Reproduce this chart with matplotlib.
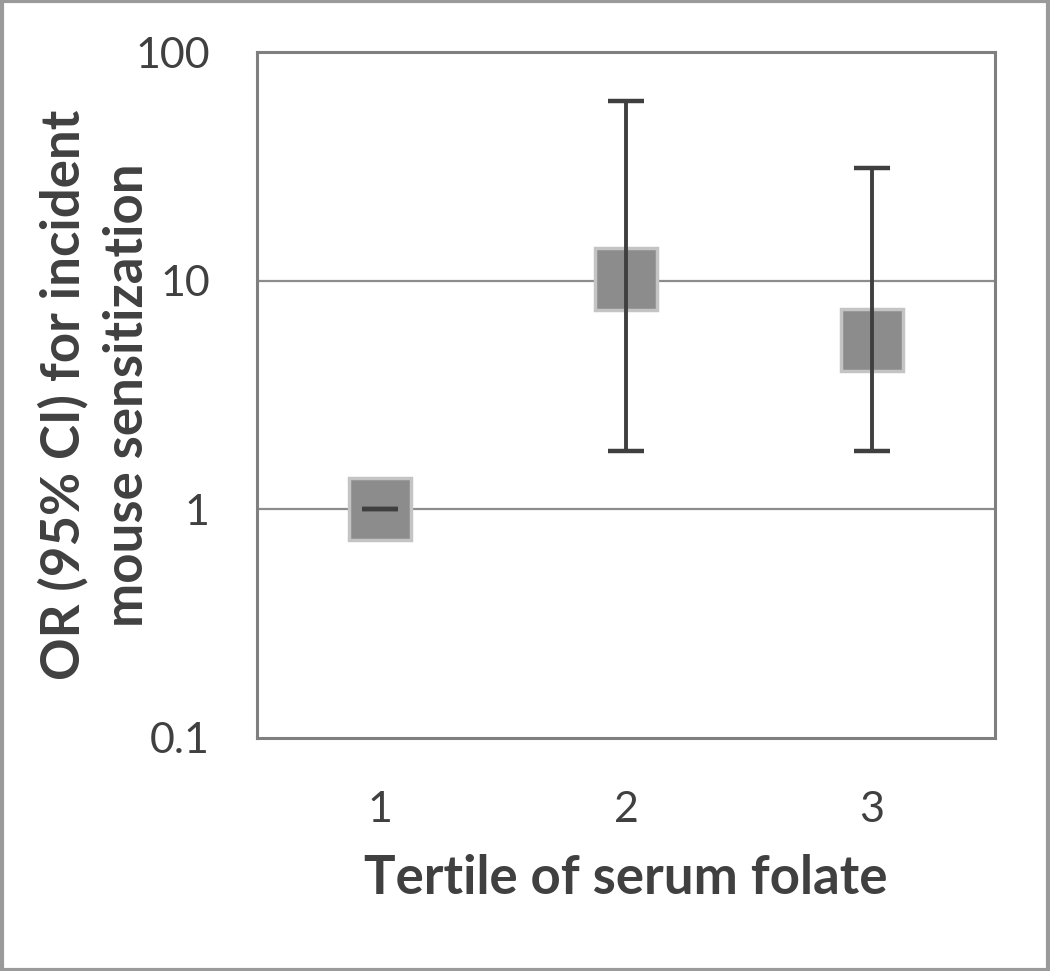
import matplotlib
matplotlib.use("Agg")
import matplotlib.pyplot as plt
import numpy as np

# data
tertiles = [1, 2, 3]
odds_ratio = [1.0, 10.2, 5.5]
ci_low = [1.0, 1.8, 1.8]
ci_high = [1.0, 61.0, 31.0]
y_ticks = [0.1, 1, 10, 100]
y_tick_labels = ["0.1", "1", "10", "100"]

plt.rcParams['font.family'] = ['Lato', 'DejaVu Sans']

fig = plt.figure(figsize=(10.5, 9.71), dpi=100)
ax = fig.add_axes([0.2448, 0.2400, 0.7028, 0.7064])

# horizontal gridlines
for v in [1, 10]:
    ax.axhline(v, color='#8c8c8c', linewidth=1.6, zorder=1)

or_arr = np.array(odds_ratio)
yerr = [or_arr - np.array(ci_low), np.array(ci_high) - or_arr]

ax.plot(tertiles, odds_ratio, linestyle='none', marker='s', markersize=44,
        markerfacecolor='#8c8c8c', markeredgecolor='#c4c4c4',
        markeredgewidth=2.5, zorder=2)
ax.errorbar(tertiles, odds_ratio, yerr=yerr, fmt='none', ecolor='#3f3f3f',
            elinewidth=2.8, capsize=13, capthick=3.2, zorder=3)

ax.set_yscale('log')
ax.set_ylim(0.1, 100)
ax.set_xlim(0.5, 3.5)
ax.set_yticks(y_ticks)
ax.set_yticklabels(y_tick_labels)
ax.minorticks_off()
ax.set_xticks(tertiles)
ax.set_xticklabels([str(t) for t in tertiles])
ax.tick_params(axis='both', length=0, labelsize=31, colors='#404040')
ax.tick_params(axis='y', pad=34)
ax.tick_params(axis='x', pad=38)

for s in ax.spines.values():
    s.set_color('#7f7f7f')
    s.set_linewidth(2.2)

ax.set_xlabel('Tertile of serum folate', fontsize=38, fontweight='bold',
              color='#404040', labelpad=18)
ax.set_ylabel('OR (95% CI) for incident\nmouse sensitization', fontsize=38,
              fontweight='bold', color='#404040', labelpad=-12, linespacing=1.35)

# outer frame
fig.patches.append(plt.Rectangle((0.0015, 0.0015), 0.997, 0.997,
                                 transform=fig.transFigure, fill=False,
                                 edgecolor='#9a9a9a', linewidth=3))

fig.savefig('out.png', dpi=100)
